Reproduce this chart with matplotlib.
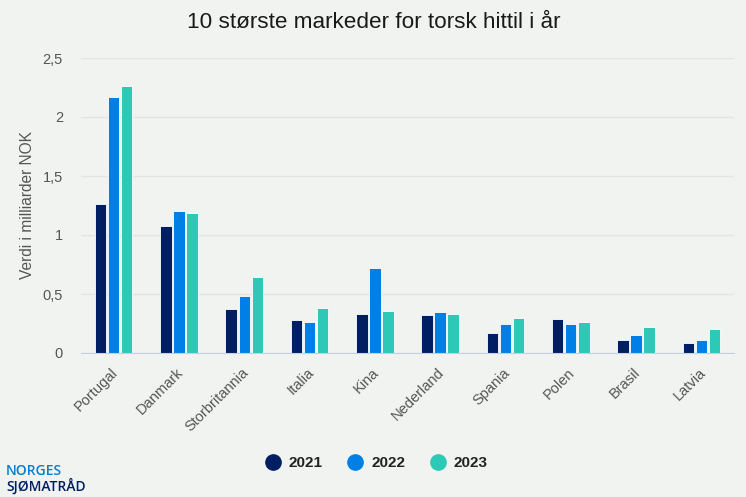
import matplotlib

matplotlib.use("Agg")
import matplotlib.pyplot as plt
import matplotlib.transforms as mtrans
import numpy as np
from matplotlib.lines import Line2D

markets = ["Portugal", "Danmark", "Storbritannia", "Italia", "Kina",
           "Nederland", "Spania", "Polen", "Brasil", "Latvia"]
years = ["2021", "2022", "2023"]
v2021 = [1.26, 1.08, 0.37, 0.28, 0.33, 0.32, 0.17, 0.29, 0.11, 0.085]
v2022 = [2.17, 1.20, 0.48, 0.26, 0.72, 0.35, 0.25, 0.25, 0.15, 0.11]
v2023 = [2.26, 1.19, 0.64, 0.38, 0.36, 0.33, 0.30, 0.26, 0.22, 0.20]
y_ticks = [0, 0.5, 1, 1.5, 2, 2.5]
y_labels = ["0", "0,5", "1", "1,5", "2", "2,5"]
colors = ["#001E62", "#0080E6", "#2EC8B6"]

bg = "#F1F3F1"
plt.rcParams["font.family"] = ["Liberation Sans", "DejaVu Sans"]

fig = plt.figure(figsize=(7.46, 4.97), dpi=100, facecolor=bg)
ax = fig.add_axes([81 / 746, 144 / 497, 653 / 746, 295 / 497], facecolor=bg)

x = np.arange(len(markets))
width = 0.175
offset = 0.2
for i, values in enumerate([v2021, v2022, v2023]):
    ax.bar(x + (i - 1) * offset, values, width, color=colors[i],
           edgecolor="white", linewidth=0.6, zorder=3)

ax.set_xlim(-0.5, len(markets) - 0.5)
ax.set_ylim(0, 2.5)
ax.set_yticks(y_ticks)
ax.set_yticklabels(y_labels, fontsize=10.5, color="#555555")
ax.set_xticks(x)
ax.set_xticklabels(markets, rotation=45, ha="right", rotation_mode="anchor",
                   fontsize=10.5, color="#555555")
ax.tick_params(axis="both", length=0)
ax.tick_params(axis="x", pad=9)
ax.tick_params(axis="y", pad=13)
# nudge the slanted labels to the left
shift = mtrans.ScaledTranslation(-3 / 100, 0, fig.dpi_scale_trans)
for label in ax.get_xticklabels():
    label.set_transform(label.get_transform() + shift)
ax.grid(axis="y", color="#E2E5E3", linewidth=1, zorder=0)
ax.set_axisbelow(True)
for name in ["top", "right", "left"]:
    ax.spines[name].set_visible(False)
ax.spines["bottom"].set_color("#C3D0E2")
ax.spines["bottom"].set_zorder(4)

fig.text(373.5 / 746, 1 - 23 / 497, "10 største markeder for torsk hittil i år",
         ha="center", va="center", fontsize=16.2, color="#1A1A1A")
fig.text(27 / 746, 1 - 205.5 / 497, "Verdi i milliarder NOK", rotation=90,
         ha="center", va="center", fontsize=11.2, color="#555555")

handles = [Line2D([], [], linestyle="", marker="o", markersize=11, color=c)
           for c in colors]
leg = fig.legend(handles, years, loc="center", bbox_to_anchor=(372.5 / 746, 1 - 463 / 497),
                 ncol=3, frameon=False, handletextpad=0.03, columnspacing=1.15,
                 prop={"size": 11, "weight": "bold"})
for t in leg.get_texts():
    t.set_color("#222222")

# logo
fig.text(6 / 746, 1 - 471 / 497, "NORGES", fontsize=10, color="#0080D0",
         ha="left", va="center", family="Open Sans", weight="semibold")
fig.text(6 / 746, 1 - 486 / 497, "SJØMATRÅD", fontsize=10, color="#001E62",
         ha="left", va="center", family="Open Sans", weight="semibold")

fig.savefig("out.png", dpi=100, facecolor=bg)
